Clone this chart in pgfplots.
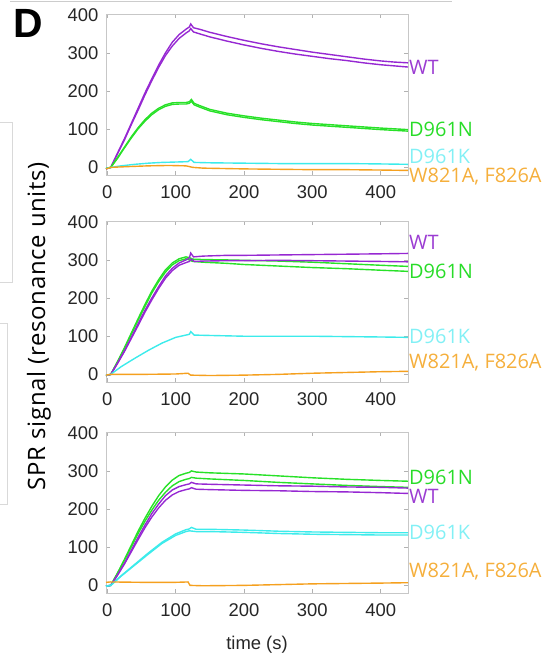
\documentclass[border=0pt]{standalone}
\usepackage{fontspec}
\setmainfont{Liberation Sans}
\newfontfamily\osans{Open Sans}
\newfontfamily\osanswide[LetterSpace=3]{Open Sans}
\usepackage{pgfplots}
\pgfplotsset{compat=1.18}

\definecolor{wtc}{RGB}{150,40,210}
\definecolor{nc}{RGB}{40,225,40}
\definecolor{kc}{RGB}{60,235,235}
\definecolor{oc}{RGB}{245,160,30}
\definecolor{wtl}{RGB}{155,60,210}
\definecolor{nl}{RGB}{40,220,40}
\definecolor{kl}{RGB}{130,240,245}
\definecolor{ol}{RGB}{245,175,60}

\pgfplotsset{
  spr/.style={
    scale only axis, width=302bp, height=161bp,
    xmin=-2, xmax=440, ymin=-20, ymax=402,
    xtick={0,100,...,400}, ytick={0,100,...,400},
    axis line style={black!22}, tick style={black!30, line width=0.6pt},
    major tick length=4bp, tick align=inside,
    ticklabel style={font=\fontsize{18.5}{20}\selectfont, text=black!85},
    yticklabel style={xshift=-4bp},
    xticklabel style={yshift=-7bp},
    /pgf/number format/assume math mode=true,
    clip=false, anchor=north west,
    every axis plot/.append style={line width=1.4pt, no markers},
  },
}
\tikzset{lab/.style={anchor=west, inner sep=1bp, font=\osans\fontsize{20}{21}\selectfont}}

\begin{document}
\begin{tikzpicture}
\path[use as bounding box] (-106bp,14bp) rectangle (446bp,-641bp);

% faint leftovers of neighbouring panels
\draw[black!20, line width=0.8pt] (-96bp,13bp) -- (346bp,13bp);
\draw[black!15, line width=0.6pt] (-106bp,-108bp) -- (-94bp,-108bp) -- (-94bp,-268bp) -- (-106bp,-268bp);
\draw[black!15, line width=0.6pt] (-106bp,-309bp) -- (-99bp,-309bp) -- (-99bp,-490bp) -- (-106bp,-490bp);

\node[font=\bfseries\fontsize{41}{41}\selectfont, inner sep=0pt] at (-78bp,-9bp) {D};
\node[rotate=90, font=\osanswide\fontsize{24}{26}\selectfont, inner sep=0pt] at (-67bp,-312bp) {SPR signal (resonance units)};
\node[font=\fontsize{18.5}{20}\selectfont, text=black!85, inner sep=0pt] at (151bp,-631bp) {time (s)};

% top panel
\begin{axis}[spr, at={(0bp,0bp)}]
\addplot[wtc] coordinates {(-2,-4)(5,0)(15,38)(25,75)(35,115)(45,155)(55,195)(65,232)(75,268)(85,300)(95,328)(105,348)(115,362)(120,368)(122,376)(126,366)(135,362)(150,354)(175,343)(200,333)(225,324)(250,316)(275,309)(300,302)(325,296)(350,290)(375,284)(400,279)(420,276)(440,274)};
\addplot[wtc] coordinates {(-2,-4)(5,0)(15,36)(25,72)(35,112)(45,150)(55,190)(65,227)(75,262)(85,293)(95,318)(105,338)(115,352)(120,358)(122,364)(126,355)(135,350)(150,342)(175,331)(200,321)(225,312)(250,304)(275,297)(300,291)(325,285)(350,280)(375,274)(400,269)(420,266)(440,263)};
\addplot[nc] coordinates {(-2,-3)(5,0)(15,26)(25,53)(35,80)(45,104)(55,125)(65,142)(75,155)(85,164)(95,169)(105,170)(115,170)(120,172)(123,178)(127,168)(135,162)(150,152)(175,142)(200,135)(225,129)(250,124)(275,119)(300,115)(325,112)(350,109)(375,106)(400,103)(420,101)(440,99)};
\addplot[nc] coordinates {(-2,-3)(5,0)(15,24)(25,51)(35,77)(45,101)(55,121)(65,138)(75,151)(85,160)(95,165)(105,166)(115,166)(120,168)(123,173)(127,164)(135,158)(150,148)(175,138)(200,131)(225,125)(250,120)(275,115)(300,111)(325,108)(350,105)(375,102)(400,99)(420,97)(440,95)};
\addplot[kc] coordinates {(-2,-3)(5,0)(20,4)(40,8)(60,11)(80,13)(100,14)(118,15)(122,21)(127,13)(150,12)(200,11)(250,10)(300,10)(350,10)(400,9)(440,8)};
\addplot[oc] coordinates {(-2,-4)(5,0)(30,2)(60,4)(90,5)(115,4)(125,0)(140,-2)(200,-4)(250,-5)(300,-6)(350,-6)(400,-7)(440,-8)};
\node[lab, text=wtl] at (axis cs:440,263) {WT};
\node[lab, text=nl] at (axis cs:440,100) {D961N};
\node[lab, text=kl] at (axis cs:440,30) {D961K};
\node[lab, text=ol] at (axis cs:440,-24) {W821A, F826A};
\end{axis}

% middle panel
\begin{axis}[spr, at={(0bp,-207bp)}]
\addplot[nc] coordinates {(-2,-3)(5,0)(15,34)(25,70)(35,108)(45,146)(55,183)(65,218)(75,248)(85,274)(95,292)(105,303)(115,308)(120,306)(125,302)(140,301)(175,300)(200,299)(250,297)(300,294)(350,290)(400,286)(440,283)};
\addplot[nc] coordinates {(-2,-3)(5,0)(15,33)(25,68)(35,105)(45,142)(55,178)(65,213)(75,243)(85,268)(95,287)(105,298)(115,303)(120,300)(125,296)(140,294)(175,291)(200,288)(250,284)(300,280)(350,277)(400,273)(440,270)};
\addplot[wtc] coordinates {(-2,-3)(5,0)(15,30)(25,62)(35,97)(45,133)(55,168)(65,200)(75,230)(85,258)(95,278)(105,292)(115,300)(120,305)(122,318)(126,308)(140,310)(175,312)(200,312)(250,313)(300,314)(350,315)(400,316)(440,317)};
\addplot[wtc] coordinates {(-2,-3)(5,0)(15,29)(25,60)(35,94)(45,128)(55,163)(65,195)(75,225)(85,252)(95,272)(105,286)(115,293)(120,296)(123,302)(127,296)(140,297)(175,298)(200,298)(250,299)(300,298)(350,297)(400,296)(440,295)};
\addplot[kc] coordinates {(-2,-2)(5,0)(20,20)(40,42)(60,63)(80,82)(100,97)(115,103)(120,105)(122,112)(127,103)(150,102)(200,100)(250,100)(300,100)(350,99)(400,98)(440,97)};
\addplot[oc] coordinates {(-2,-2)(5,0)(50,0)(100,1)(118,3)(122,-2)(150,-3)(200,-2)(250,0)(300,3)(350,5)(400,7)(440,8)};
\node[lab, text=wtl] at (axis cs:440,345) {WT};
\node[lab, text=nl] at (axis cs:440,269) {D961N};
\node[lab, text=kl] at (axis cs:440,100) {D961K};
\node[lab, text=ol] at (axis cs:440,30) {W821A, F826A};
\end{axis}

% bottom panel
\begin{axis}[spr, at={(0bp,-418bp)}]
\addplot[nc] coordinates {(-2,-2)(5,0)(15,33)(25,68)(35,105)(45,142)(55,176)(65,207)(75,235)(85,258)(95,276)(105,288)(115,294)(120,296)(123,300)(130,297)(150,295)(200,292)(250,287)(300,282)(350,278)(400,275)(440,273)};
\addplot[nc] coordinates {(-2,-2)(5,0)(15,32)(25,66)(35,101)(45,136)(55,168)(65,197)(75,223)(85,244)(95,261)(105,272)(115,278)(120,280)(123,283)(130,281)(150,279)(200,275)(250,270)(300,266)(350,262)(400,259)(440,257)};
\addplot[wtc] coordinates {(-2,-2)(5,0)(15,28)(25,58)(35,92)(45,126)(55,158)(65,188)(75,213)(85,235)(95,250)(105,259)(115,264)(120,266)(123,270)(130,266)(150,265)(200,263)(250,261)(300,260)(350,258)(400,257)(440,255)};
\addplot[wtc] coordinates {(-2,-2)(5,0)(15,27)(25,56)(35,88)(45,120)(55,151)(65,179)(75,203)(85,223)(95,237)(105,246)(115,251)(120,253)(123,256)(130,252)(150,251)(200,249)(250,248)(300,246)(350,245)(400,243)(440,241)};
\addplot[kc] coordinates {(-2,-2)(5,0)(20,25)(40,55)(60,85)(80,113)(100,135)(115,146)(120,148)(123,152)(130,147)(150,147)(200,145)(250,142)(300,140)(350,139)(400,138)(440,138)};
\addplot[kc] coordinates {(-2,-2)(5,0)(20,24)(40,53)(60,82)(80,110)(100,131)(115,141)(120,143)(130,141)(150,141)(200,139)(250,136)(300,134)(350,133)(400,132)(440,132)};
\addplot[oc] coordinates {(-2,8)(5,9)(50,8)(100,8)(118,9)(121,0)(140,-1)(200,0)(250,2)(300,4)(350,5)(400,6)(440,7)};
\node[lab, text=nl] at (axis cs:440,283) {D961N};
\node[lab, text=wtl] at (axis cs:440,232) {WT};
\node[lab, text=kl] at (axis cs:440,138) {D961K};
\node[lab, text=ol] at (axis cs:440,36) {W821A, F826A};
\end{axis}
\end{tikzpicture}
\end{document}
